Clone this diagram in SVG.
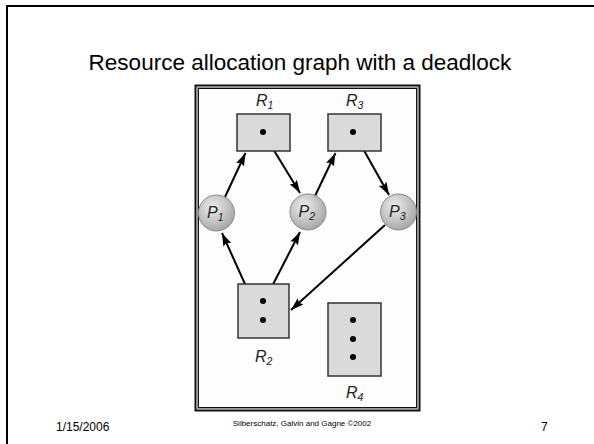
<svg xmlns="http://www.w3.org/2000/svg" width="594" height="444" viewBox="0 0 594 444">
<style>
.title{font-family:"Liberation Sans",Arial,sans-serif;font-size:22.5px;fill:#000}
.foot{font-family:"Liberation Sans",Arial,sans-serif;font-size:12px;fill:#000}
.small{font-family:"Liberation Sans",Arial,sans-serif;font-size:8px;fill:#000}
.lbl{font-family:"Liberation Sans",Arial,sans-serif;font-size:16px;font-style:italic;fill:#222}
.sub{font-size:10.5px}
.res{fill:#dadada;stroke:#333;stroke-width:1.5}
.proc{fill:url(#pg);stroke:#8a8a8a;stroke-width:1}
.dot{fill:#000}
.edge{stroke:#000;stroke-width:2;fill:none;marker-end:url(#ah)}
</style>
<defs>
<radialGradient id="pg" cx="0.4" cy="0.35" r="0.65">
<stop offset="0" stop-color="#eeeeee"/>
<stop offset="1" stop-color="#a8a8a8"/>
</radialGradient>
<marker id="ah" viewBox="0 0 12 8" refX="12" refY="4" markerWidth="6.5" markerHeight="4.3" orient="auto" markerUnits="strokeWidth">
<path d="M0,0 L12,4 L0,8 L2,4 Z" fill="#000"/>
</marker>
</defs>
<rect x="0" y="0" width="594" height="444" fill="#fff"/>
<rect x="7" y="6" width="600" height="460" fill="none" stroke="#000" stroke-width="2"/>
<text class="title" x="300" y="70" text-anchor="middle">Resource allocation graph with a deadlock</text>
<g id="picture-frame">
<rect x="195.5" y="85.5" width="224" height="325" fill="#fdfdfd" stroke="#111" stroke-width="2"/>
<rect x="197.5" y="87.5" width="220" height="321" fill="none" stroke="#999" stroke-width="1"/>
<rect x="198.5" y="88.5" width="218" height="319" fill="none" stroke="#111" stroke-width="1"/>
</g>
<g id="connectors">
<line class="edge" x1="225" y1="197" x2="245.5" y2="153"/>
<line class="edge" x1="267" y1="139" x2="300" y2="193"/>
<line class="edge" x1="315" y1="196" x2="335.5" y2="153"/>
<line class="edge" x1="357" y1="138" x2="389" y2="195"/>
<line class="edge" x1="258" y1="313" x2="222" y2="233"/>
<line class="edge" x1="267" y1="296" x2="300" y2="232"/>
<line class="edge" x1="385" y1="225" x2="291" y2="310"/>
</g>
<g id="R1">
<text class="lbl" x="256" y="106">R<tspan class="sub" dy="3">1</tspan></text>
<rect class="res" x="237" y="114" width="53" height="37"/>
<circle class="dot" cx="263" cy="132" r="3"/>
</g>
<g id="R3">
<text class="lbl" x="346" y="106">R<tspan class="sub" dy="3">3</tspan></text>
<rect class="res" x="328" y="114" width="53" height="37"/>
<circle class="dot" cx="353" cy="132" r="3"/>
</g>
<g id="P1">
<circle class="proc" cx="216.5" cy="213" r="18"/>
<text class="lbl" x="207" y="218">P<tspan class="sub" dy="3">1</tspan></text>
</g>
<g id="P2">
<circle class="proc" cx="308" cy="212" r="18"/>
<text class="lbl" x="298.5" y="217">P<tspan class="sub" dy="3">2</tspan></text>
</g>
<g id="P3">
<circle class="proc" cx="398.5" cy="212" r="18"/>
<text class="lbl" x="389" y="217">P<tspan class="sub" dy="3">3</tspan></text>
</g>
<g id="R2">
<rect class="res" x="238" y="284" width="51" height="54"/>
<circle class="dot" cx="263" cy="301" r="3"/>
<circle class="dot" cx="263" cy="320" r="3"/>
<text class="lbl" x="255" y="362">R<tspan class="sub" dy="3">2</tspan></text>
</g>
<g id="R4">
<rect class="res" x="328" y="303" width="53" height="73"/>
<circle class="dot" cx="353" cy="320" r="3"/>
<circle class="dot" cx="353" cy="339" r="3"/>
<circle class="dot" cx="353" cy="357" r="3"/>
<text class="lbl" x="346" y="398">R<tspan class="sub" dy="3">4</tspan></text>
</g>
<text class="foot" x="56" y="431">1/15/2006</text>
<text class="small" x="302" y="426" text-anchor="middle">Silberschatz, Galvin and  Gagne ©2002</text>
<text class="foot" x="541" y="431">7</text>
</svg>
